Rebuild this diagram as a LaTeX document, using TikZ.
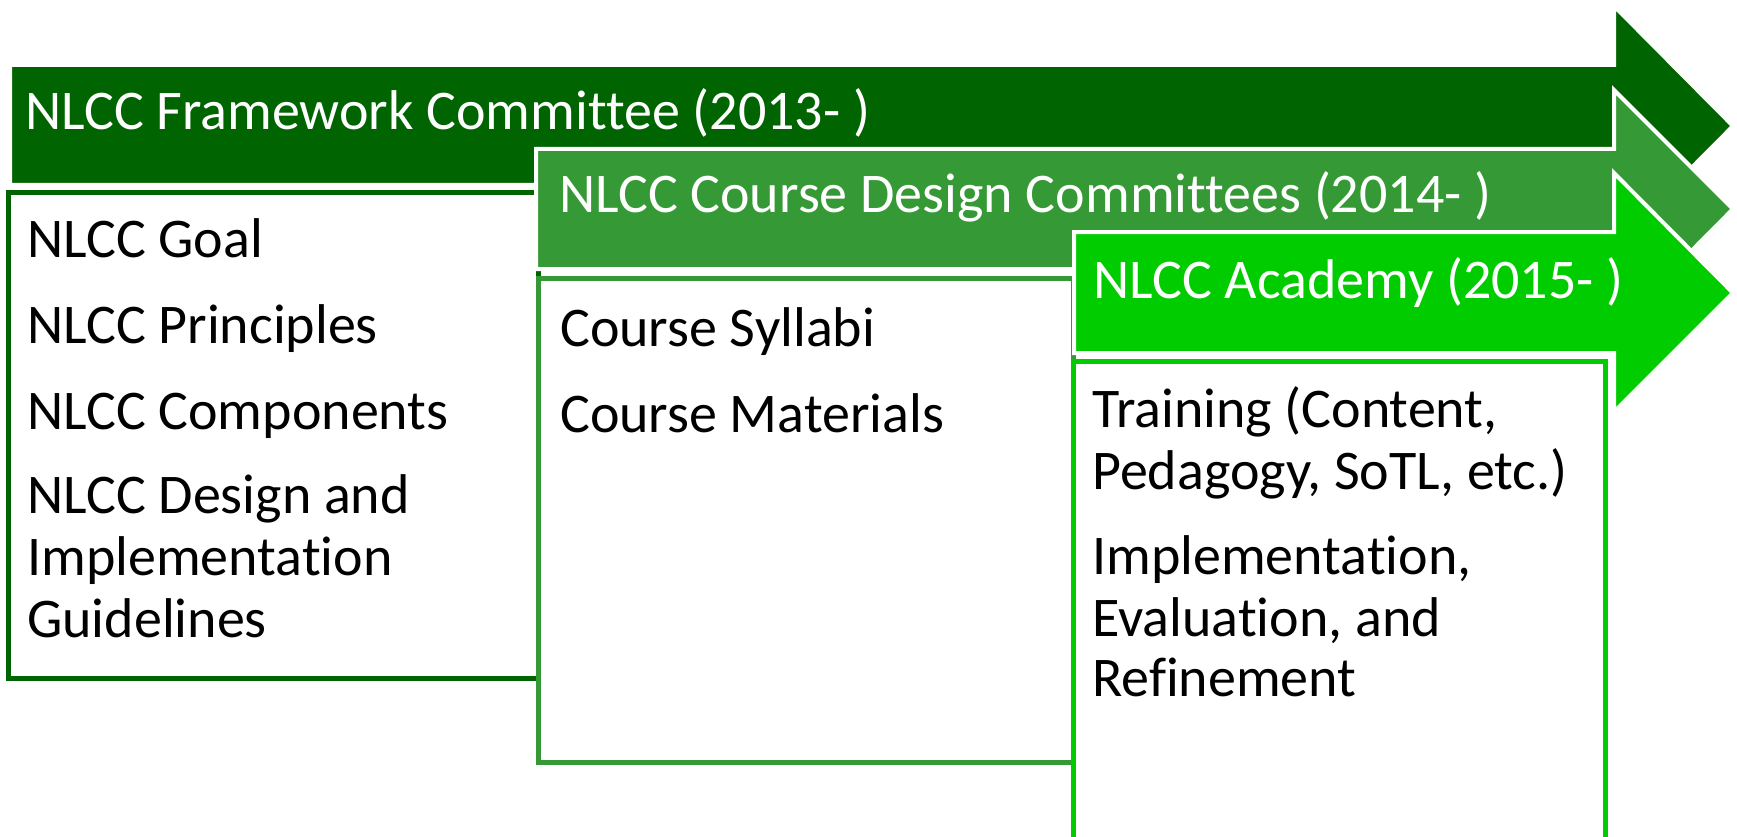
\documentclass[tikz,border=0pt]{standalone}
\usepackage{fontspec}
\setmainfont{Carlito}[Ligatures={NoCommon,NoContextual}]
\definecolor{gA}{HTML}{006400}
\definecolor{gB}{HTML}{359A35}
\definecolor{gC}{HTML}{00CC00}
\begin{document}
\begin{tikzpicture}[x=1pt,y=-1pt,
  arrowshape/.style={draw=white,line width=4pt,line join=miter},
  boxshape/.style={fill=white,line width=5pt},
  head/.style={anchor=base west,inner sep=0pt,text=white,font=\fontsize{56}{62}\selectfont},
  item/.style={anchor=base west,inner sep=0pt,text=black,font=\fontsize{56}{62}\selectfont}]
\useasboundingbox (0,0) rectangle (1737,837);
\clip (0,0) rectangle (1737,837);
% arrow 1
\filldraw[arrowshape,fill=gA] (10,65) -- (1614,65) -- (1614,6) -- (1733,126) -- (1614,246) -- (1614,185) -- (10,185) -- cycle;
\node[head] (h1) at (25,130) {NLCC Framework Committee (2013- )};
% box 1
\draw[boxshape,draw=gA] (8,193) rectangle (538,678);
\node[item] (a1) at (27,258) {NLCC Goal};
\node[item] (a2) at (27,343) {NLCC Principles};
\node[item] (a3) at (27,429) {NLCC Components};
\node[item] (a4) at (27,513) {NLCC Design and};
\node[item] (a5) at (27,575) {Implementation};
\node[item] (a6) at (27,637) {Guidelines};
% arrow 2
\filldraw[arrowshape,fill=gB] (536,149) -- (1614,149) -- (1614,90) -- (1733,209) -- (1614,329) -- (1614,269) -- (536,269) -- cycle;
\node[head] (h2) at (559,213) {NLCC Course Design Committees (2014- )};
% box 2
\draw[boxshape,draw=gB] (538,278) rectangle (1073,762);
\node[item] (b1) at (560,346) {Course Syllabi};
\node[item] (b2) at (560,432) {Course Materials};
% arrow 3
\filldraw[arrowshape,fill=gC] (1074,232) -- (1614,232) -- (1614,173) -- (1733,293) -- (1614,412) -- (1614,353) -- (1074,353) -- cycle;
\node[head] (h3) at (1093,298) {NLCC Academy (2015- )};
% box 3
\draw[boxshape,draw=gC] (1073,361) rectangle (1605,846);
\node[item] (c1) at (1092,427) {Training (Content,};
\node[item] (c2) at (1092,489) {Pedagogy, SoTL, etc.)};
\node[item] (c3) at (1092,574) {Implementation,};
\node[item] (c4) at (1092,636) {Evaluation, and};
\node[item] (c5) at (1092,696) {Refinement};
\end{tikzpicture}
\end{document}
